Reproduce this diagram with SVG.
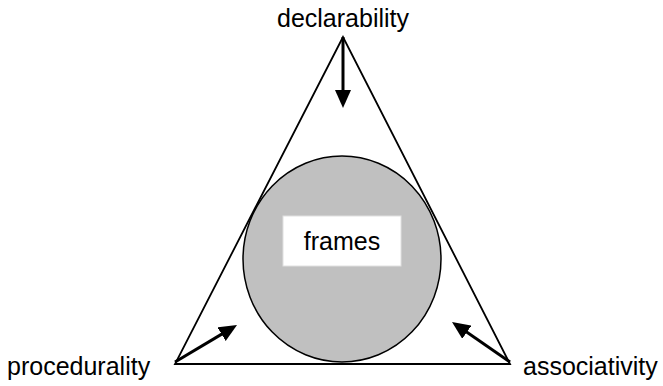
<svg xmlns="http://www.w3.org/2000/svg" width="663" height="386" viewBox="0 0 663 386">
<style>
.lbl{font-family:"Liberation Sans",Arial,sans-serif;font-size:25px;fill:#000}
.arr{stroke:#000;stroke-width:3;fill:none}
</style>
<defs>
<marker id="ah" markerUnits="userSpaceOnUse" markerWidth="19" markerHeight="17" refX="9" refY="8" orient="auto">
<path d="M0,0 L18,8 L0,16 z" fill="#000"/>
</marker>
</defs>
<rect width="663" height="386" fill="#fff"/>
<g id="triangle">
<polygon points="343,37 175,364 510,364" fill="none" stroke="#000" stroke-width="1.8"/>
</g>
<g id="frames">
<ellipse cx="342" cy="259" rx="99" ry="103" fill="#c0c0c0" stroke="#000" stroke-width="1.5"/>
<rect x="283" y="216" width="118" height="50" fill="#fff" stroke="#e0e0e0" stroke-width="1"/>
<text class="lbl" x="342" y="250" text-anchor="middle">frames</text>
</g>
<g id="declarability">
<text class="lbl" x="343" y="27" text-anchor="middle">declarability</text>
</g>
<g id="procedurality">
<text class="lbl" x="7" y="375">procedurality</text>
</g>
<g id="associativity">
<text class="lbl" x="523" y="375">associativity</text>
</g>
<g id="connectors">
<line class="arr" x1="343" y1="37" x2="343" y2="99" marker-end="url(#ah)"/>
<line class="arr" x1="175" y1="362" x2="229.3" y2="329.6" marker-end="url(#ah)"/>
<line class="arr" x1="510" y1="362" x2="459.4" y2="327.1" marker-end="url(#ah)"/>
</g>
</svg>
